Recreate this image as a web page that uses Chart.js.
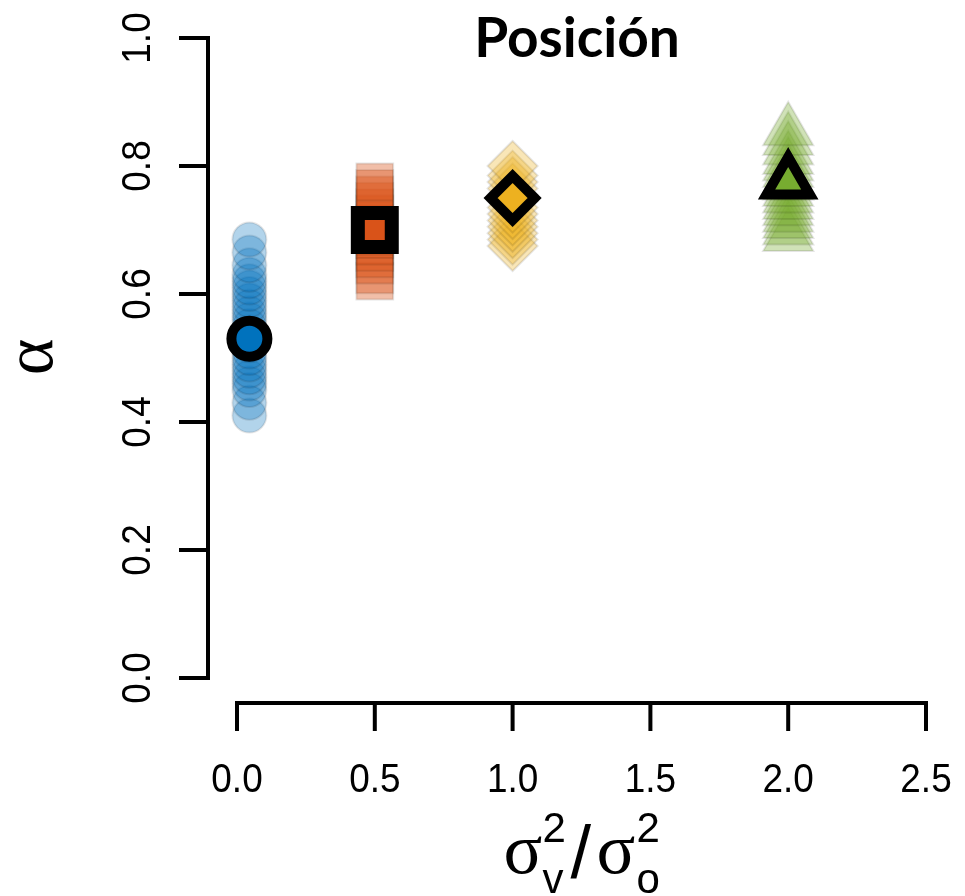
<!DOCTYPE html>
<html>
<head>
<meta charset="utf-8">
<script src="https://cdn.jsdelivr.net/npm/chart.js@4/dist/chart.umd.min.js"></script>
<style>
  body { margin: 0; background: #fff; }
</style>
</head>
<body>
<canvas id="alphaChart" width="965" height="896"></canvas>
<script>
// axis ticks
const xTicks = [0, 0.5, 1.0, 1.5, 2.0, 2.5];
const yTicks = [0, 0.2, 0.4, 0.6, 0.8, 1.0];
const xTickLabels = ["0.0", "0.5", "1.0", "1.5", "2.0", "2.5"];
const yTickLabels = ["0.0", "0.2", "0.4", "0.6", "0.8", "1.0"];

// sigma_v^2 / sigma_o^2 conditions and mean alpha
const ratios = [0.045, 0.5, 1.0, 2.0];
const meanAlpha = [0.53, 0.70, 0.75, 0.775];

// individual estimates (the faded clouds)
const blueCloud = [0.41, 0.43, 0.45, 0.46, 0.47, 0.48, 0.49, 0.50, 0.51, 0.52, 0.53, 0.54, 0.55, 0.56, 0.57, 0.58, 0.59, 0.60, 0.61, 0.62, 0.63, 0.645, 0.665, 0.685];
const orangeCloud = [0.62, 0.63, 0.645, 0.655, 0.665, 0.675, 0.685, 0.69, 0.70, 0.71, 0.715, 0.725, 0.735, 0.745, 0.755, 0.765, 0.775];
const yellowCloud = [0.675, 0.685, 0.695, 0.705, 0.715, 0.725, 0.735, 0.745, 0.75, 0.755, 0.765, 0.775, 0.785, 0.80];
const greenCloud = [0.69, 0.70, 0.71, 0.72, 0.73, 0.74, 0.75, 0.76, 0.77, 0.78, 0.79, 0.80, 0.81, 0.825, 0.84, 0.855];

const colors = ["rgb(0,114,189)", "rgb(217,83,25)", "rgb(237,177,32)", "rgb(119,172,48)"];
const fades = ["rgba(0,114,189,0.3)", "rgba(217,83,25,0.38)", "rgba(237,177,32,0.32)", "rgba(119,172,48,0.35)"];

function cloud(vals, i, style, r) {
  return {
    data: vals.map(v => ({ x: ratios[i], y: v })),
    pointStyle: style,
    pointRadius: r,
    backgroundColor: fades[i],
    borderColor: "rgba(0,0,0,0.1)",
    borderWidth: 2,
    order: 2,
    clip: false
  };
}

function mean(i, style, r, bw) {
  return {
    data: [{ x: ratios[i], y: meanAlpha[i] }],
    pointStyle: style,
    pointRadius: r,
    backgroundColor: colors[i],
    borderColor: "#000",
    borderWidth: bw,
    order: 1,
    clip: false
  };
}

const rAxes = {
  id: "rAxes",
  afterDraw(chart) {
    const ctx = chart.ctx;
    const xs = chart.scales.x, ys = chart.scales.y;
    ctx.save();
    ctx.strokeStyle = "#000";
    ctx.lineWidth = 4;
    ctx.lineCap = "square";

    // y axis, set off to the left
    const ax = 208;
    ctx.beginPath();
    ctx.moveTo(ax, ys.getPixelForValue(0));
    ctx.lineTo(ax, ys.getPixelForValue(1));
    yTicks.forEach(v => {
      const p = ys.getPixelForValue(v);
      ctx.moveTo(ax, p);
      ctx.lineTo(ax - 27, p);
    });
    ctx.stroke();

    // x axis, set off below
    const ay = 703;
    ctx.beginPath();
    ctx.moveTo(xs.getPixelForValue(0), ay);
    ctx.lineTo(xs.getPixelForValue(2.5), ay);
    xTicks.forEach(v => {
      const p = xs.getPixelForValue(v);
      ctx.moveTo(p, ay);
      ctx.lineTo(p, ay + 26);
    });
    ctx.stroke();

    ctx.fillStyle = "#000";
    ctx.font = "41px 'Liberation Sans', Arial, sans-serif";
    ctx.textAlign = "center";
    ctx.textBaseline = "alphabetic";
    xTicks.forEach((v, i) => {
      ctx.save();
      ctx.translate(xs.getPixelForValue(v), 792);
      ctx.scale(0.9, 1);
      ctx.fillText(xTickLabels[i], 0, 0);
      ctx.restore();
    });
    yTicks.forEach((v, i) => {
      ctx.save();
      ctx.translate(150, ys.getPixelForValue(v));
      ctx.rotate(-Math.PI / 2);
      ctx.scale(0.9, 1);
      ctx.fillText(yTickLabels[i], 0, 0);
      ctx.restore();
    });

    // y title
    ctx.save();
    ctx.translate(52, 357);
    ctx.rotate(-Math.PI / 2);
    ctx.font = "70px 'Liberation Serif', serif";
    ctx.fillText("\u03b1", 0, 0);
    ctx.restore();

    // x title: sigma_v^2 / sigma_o^2
    const cx = (xs.getPixelForValue(0) + xs.getPixelForValue(2.5)) / 2;
    ctx.textAlign = "left";
    ctx.font = "72px 'Liberation Serif', serif";
    ctx.fillText("\u03c3", cx - 78, 873);
    ctx.fillText("\u03c3", cx + 15, 873);
    ctx.font = "42px 'Liberation Sans', Arial, sans-serif";
    ctx.fillText("2", cx - 39, 842);
    ctx.fillText("v", cx - 39, 893);
    ctx.fillText("2", cx + 55, 842);
    ctx.fillText("o", cx + 55, 893);
    ctx.font = "74px 'Liberation Sans', Arial, sans-serif";
    ctx.fillText("/", cx - 11, 878);

    // title
    ctx.textAlign = "center";
    ctx.font = "bold 55px Lato, 'Open Sans', sans-serif";
    ctx.fillText("Posición", 577, 57);
    ctx.restore();
  }
};

new Chart(document.getElementById("alphaChart"), {
  type: "scatter",
  data: {
    datasets: [
      mean(0, "circle", 18, 10),
      mean(1, "rect", 24, 14),
      mean(2, "rectRot", 22, 10),
      mean(3, "triangle", 25, 10),
      cloud(blueCloud, 0, "circle", 17),
      cloud(orangeCloud, 1, "rect", 26),
      cloud(yellowCloud, 2, "rectRot", 25),
      cloud(greenCloud, 3, "triangle", 29)
    ]
  },
  options: {
    responsive: false,
    animation: false,
    layout: { padding: { left: 237, right: 39, top: 38, bottom: 218 } },
    scales: {
      x: { type: "linear", min: 0, max: 2.5, display: false },
      y: { type: "linear", min: 0, max: 1, display: false }
    },
    plugins: {
      legend: { display: false },
      tooltip: { enabled: false }
    }
  },
  plugins: [rAxes]
});
</script>
</body>
</html>
